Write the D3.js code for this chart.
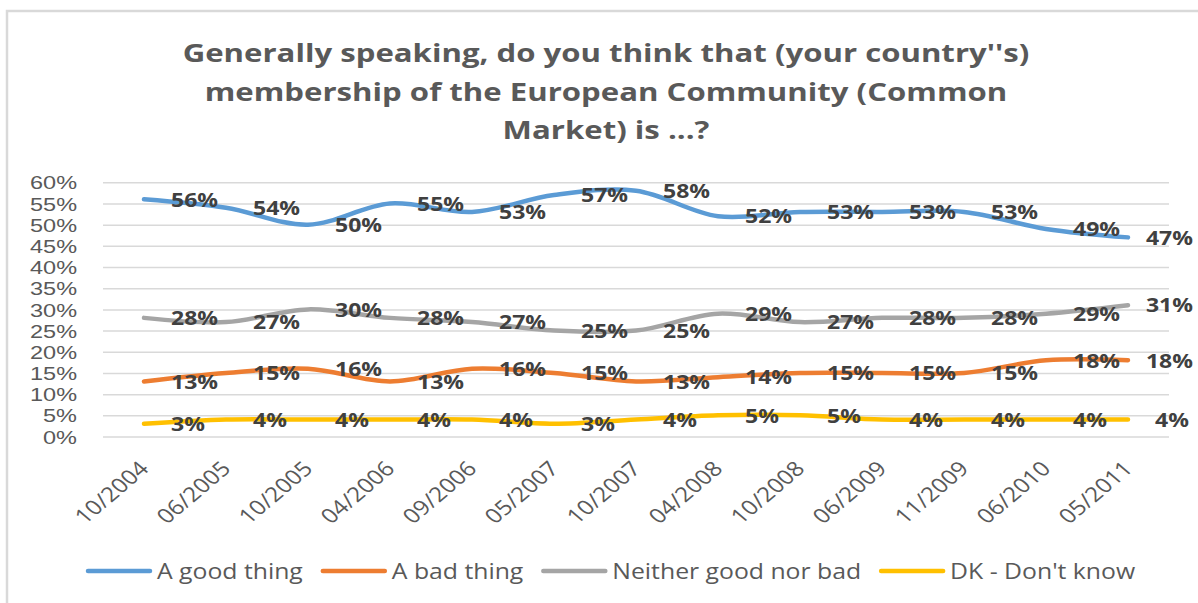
<!DOCTYPE html>
<html>
<head>
<meta charset="utf-8">
<script src="https://cdn.jsdelivr.net/npm/d3@7"></script>
<style>
  html, body { margin: 0; padding: 0; background: #ffffff; }
  svg { display: block; }
</style>
</head>
<body>
<svg id="chart" width="1198" height="603"></svg>
<script>
// ---- Data ----
const categories = ["10/2004","06/2005","10/2005","04/2006","09/2006","05/2007","10/2007","04/2008","10/2008","06/2009","11/2009","06/2010","05/2011"];
const goodThing  = [56,54,50,55,53,57,58,52,53,53,53,49,47];
const badThing   = [13,15,16,13,16,15,13,14,15,15,15,18,18];
const neither    = [28,27,30,28,27,25,25,29,27,28,28,29,31];
const dontKnow   = [3,4,4,4,4,3,4,5,5,4,4,4,4];
const seriesNames = ["A good thing","A bad thing","Neither good nor bad","DK - Don't know"];
const seriesColors = ["#5b9bd5","#ed7d31","#a5a5a5","#ffc000"];
const yTicks = [0,5,10,15,20,25,30,35,40,45,50,55,60];
const titleLines = ["Generally speaking, do you think that (your country''s)",
                    "membership of the European Community (Common",
                    "Market) is ...?"];

const seriesValues = [goodThing, badThing, neither, dontKnow];
const series = seriesNames.map((name, i) => ({name, color: seriesColors[i], values: seriesValues[i]}));

// ---- Layout ----
const SX = 1.18; // horizontal stretch of the reference picture
const FONT = "'Open Sans', 'DejaVu Sans', sans-serif";
const svg = d3.select("#chart");
const plot = {left: 103, right: 1169, top: 182.3, bottom: 436.5};

// chart border
svg.append("path")
  .attr("d", "M7,612 L7,11 L1210,11")
  .attr("fill", "none").attr("stroke", "#d9d9d9").attr("stroke-width", 2.5);

// Title
const title = svg.append("g").attr("font-family", FONT).attr("font-weight", 700)
  .attr("font-size", 24.5).attr("fill", "#595959");
const titleBase = [62, 100.5, 139];
const tNodes = titleLines.map((t, i) => title.append("text")
  .attr("text-anchor", "middle").text(t)
  .attr("transform", `translate(606,${titleBase[i]})`));
const w0 = tNodes[0].node().getComputedTextLength();
const tsx = 847 / w0;
tNodes.forEach((n, i) => n.attr("transform", `translate(606,${titleBase[i]}) scale(${tsx},1)`));

// Scales
const x = d3.scalePoint().domain(categories).range([plot.left, plot.right]).padding(0.5);
const y = d3.scaleLinear().domain([0, 60]).range([plot.bottom, plot.top]);

// Y axis with gridlines
const yAxis = svg.append("g").attr("transform", `translate(${plot.left},0)`)
  .call(d3.axisLeft(y).tickValues(yTicks).tickFormat(d => d + "%")
        .tickSize(-(plot.right - plot.left)).tickPadding(26));
yAxis.select(".domain").remove();
yAxis.selectAll(".tick line").attr("stroke", "#d9d9d9").attr("stroke-width", 1.5);
yAxis.selectAll(".tick text")
  .attr("x", 0).attr("dy", null).attr("y", 6.6)
  .attr("transform", `translate(-26,0) scale(1.27,1)`)
  .attr("fill", "#595959").attr("font-family", "'Liberation Sans', Arial, sans-serif").attr("font-size", 18.5)
  .attr("text-anchor", "end");

// X axis
const xAxis = svg.append("g").attr("transform", `translate(0,${plot.bottom})`)
  .call(d3.axisBottom(x).tickSize(0));
xAxis.select(".domain").remove();
xAxis.selectAll(".tick text")
  .attr("x", 0).attr("y", 0).attr("dy", null)
  .attr("transform", `translate(5.5,33.5) scale(${SX},1) rotate(-45)`)
  .attr("text-anchor", "end")
  .attr("fill", "#595959").attr("font-family", FONT).attr("font-size", 20.5);

// Lines
const line = d3.line()
  .x((d, i) => x(categories[i]))
  .y(d => y(d))
  .curve(d3.curveCatmullRom.alpha(0.5));

svg.append("g").selectAll("path").data(series).join("path")
  .attr("d", s => line(s.values))
  .attr("fill", "none")
  .attr("stroke", s => s.color)
  .attr("stroke-width", 4.5)
  .attr("stroke-linejoin", "round")
  .attr("stroke-linecap", "round");

// Data labels
const lblG = svg.append("g").attr("font-family", FONT).attr("font-weight", 700)
  .attr("font-size", 19.5).attr("fill", "#404040");
series.forEach(s => {
  s.values.forEach((v, i) => {
    const px = x(categories[i]);
    const py = y(v);
    const t = lblG.append("text").text(v + "%");
    const w = t.node().getComputedTextLength() * SX;
    let left = px + 27;
    if (left + w > 1193) left = 1193 - w;
    t.attr("transform", `translate(${left},${py + 7.3}) scale(${SX},1)`);
  });
});

// Legend
const leg = svg.append("g").attr("font-family", FONT).attr("font-size", 21).attr("fill", "#595959");
let lx = 88;
const ly = 571;
series.forEach(s => {
  leg.append("line")
    .attr("x1", lx).attr("x2", lx + 62).attr("y1", ly).attr("y2", ly)
    .attr("stroke", s.color).attr("stroke-width", 4.5).attr("stroke-linecap", "round");
  const t = leg.append("text").text(s.name)
    .attr("transform", `translate(${lx + 69},${ly + 7.5}) scale(${SX},1)`);
  const w = t.node().getComputedTextLength() * SX;
  lx = lx + 69 + w + 20;
});
</script>
</body>
</html>
